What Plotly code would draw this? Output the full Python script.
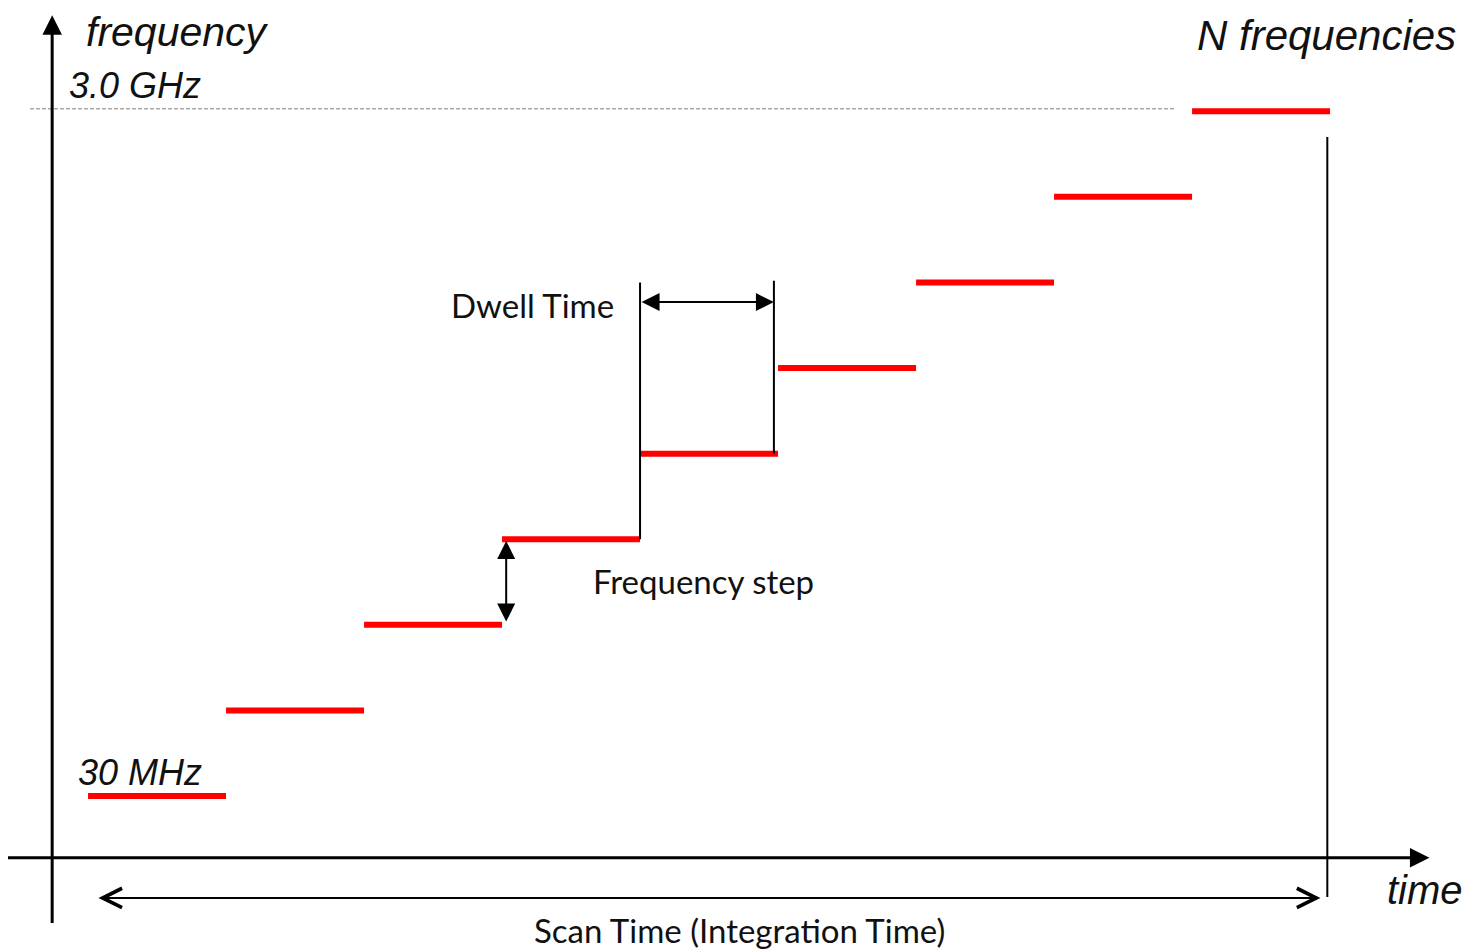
import plotly.graph_objects as go

# stepped frequency scan: one dwell per frequency
dwell_start = [0, 1, 2, 3, 4, 5, 6, 7, 8]
dwell_end = [1, 2, 3, 4, 5, 6, 7, 8, 9]
freq_level = [0, 1, 2, 3, 4, 5, 6, 7, 8]

f_low_label = "30 MHz"
f_high_label = "3.0 GHz"

# build red segments from the data
xs, ys = [], []
for t0, t1, f in zip(dwell_start, dwell_end, freq_level):
    xs += [t0, t1, None]
    ys += [f, f, None]

fig = go.Figure()
fig.add_trace(go.Scatter(x=xs, y=ys, mode="lines",
                         line=dict(color="#ff0000", width=6),
                         hoverinfo="skip", showlegend=False))

top = freq_level[-1]
n = dwell_end[-1]
ax_x = -0.26   # frequency axis position (time units)
ax_y = -0.72   # time axis position (frequency units)

# dashed reference line at highest frequency
fig.add_shape(type="line", x0=-0.42, x1=7.88, y0=top + 0.03, y1=top + 0.03,
              line=dict(color="#a6a6a6", width=1.5, dash="4px,2px"))

# end of scan marker
fig.add_shape(type="line", x0=n - 0.02, x1=n - 0.02, y0=top - 0.3, y1=-1.18,
              line=dict(color="black", width=2))

# dwell time markers
fig.add_shape(type="line", x0=4, x1=4, y0=3, y1=6.0,
              line=dict(color="black", width=2))
fig.add_shape(type="line", x0=4.97, x1=4.97, y0=4, y1=6.02,
              line=dict(color="black", width=2))


def arrow(x0, y0, x1, y1, width=2, head=2, size=1, both=False):
    fig.add_annotation(x=x1, y=y1, ax=x0, ay=y0, xref="x", yref="y",
                       axref="x", ayref="y", text="", showarrow=True,
                       arrowhead=head, startarrowhead=head, arrowsize=size,
                       startarrowsize=size, arrowwidth=width,
                       arrowcolor="black", standoff=0, startstandoff=0,
                       arrowside="end+start" if both else "end")


# axes
arrow(ax_x, -1.5, ax_x, 9.12, width=3, size=1.3)
arrow(-0.6, ax_y, 9.72, ax_y, width=3, size=1.3)
# dwell time, frequency step, scan time
arrow(4.0, 5.77, 4.97, 5.77, width=2, size=1.8, both=True)
arrow(3.03, 2.02, 3.03, 2.98, width=2, size=1.8, both=True)
arrow(0.065, -1.19, 8.93, -1.19, width=2, head=5, size=1.9, both=True)

ital = dict(family="Liberation Sans, Arial, sans-serif", color="#111111")
cal = dict(family="Lato, Open Sans, sans-serif", color="#111111", size=33)


def label(x, y, text, font, xanchor="left", size=None):
    f = dict(font)
    if size:
        f["size"] = size
    fig.add_annotation(x=x, y=y, xref="x", yref="y", text=text,
                       showarrow=False, xanchor=xanchor, yanchor="middle",
                       font=f)


label(-0.03, 8.93, "<i>frequency</i>", ital, size=41)
label(-0.15, 8.3, "<i>" + f_high_label + "</i>", ital, size=36)
label(9.93, 8.89, "<i>N frequencies</i>", ital, xanchor="right", size=42)
label(9.98, -1.10, "<i>time</i>", ital, xanchor="right", size=40)
label(-0.09, 0.27, "<i>" + f_low_label + "</i>", ital, size=36)
label(3.22, 5.74, "Dwell Time", cal, xanchor="center")
label(4.46, 2.51, "Frequency step", cal, xanchor="center")
label(4.72, -1.57, "Scan Time (Integration Time)", cal, xanchor="center")

# page body has an 8px margin, so the figure is 8px smaller and the
# ranges start 8px in
fig.update_xaxes(range=[-0.580, 10.014], visible=False)
fig.update_yaxes(range=[-1.822, 9.206], visible=False)
fig.update_layout(width=1462, height=944, margin=dict(l=0, r=0, t=0, b=0),
                  plot_bgcolor="white", paper_bgcolor="white")

fig.write_html("out.html")
